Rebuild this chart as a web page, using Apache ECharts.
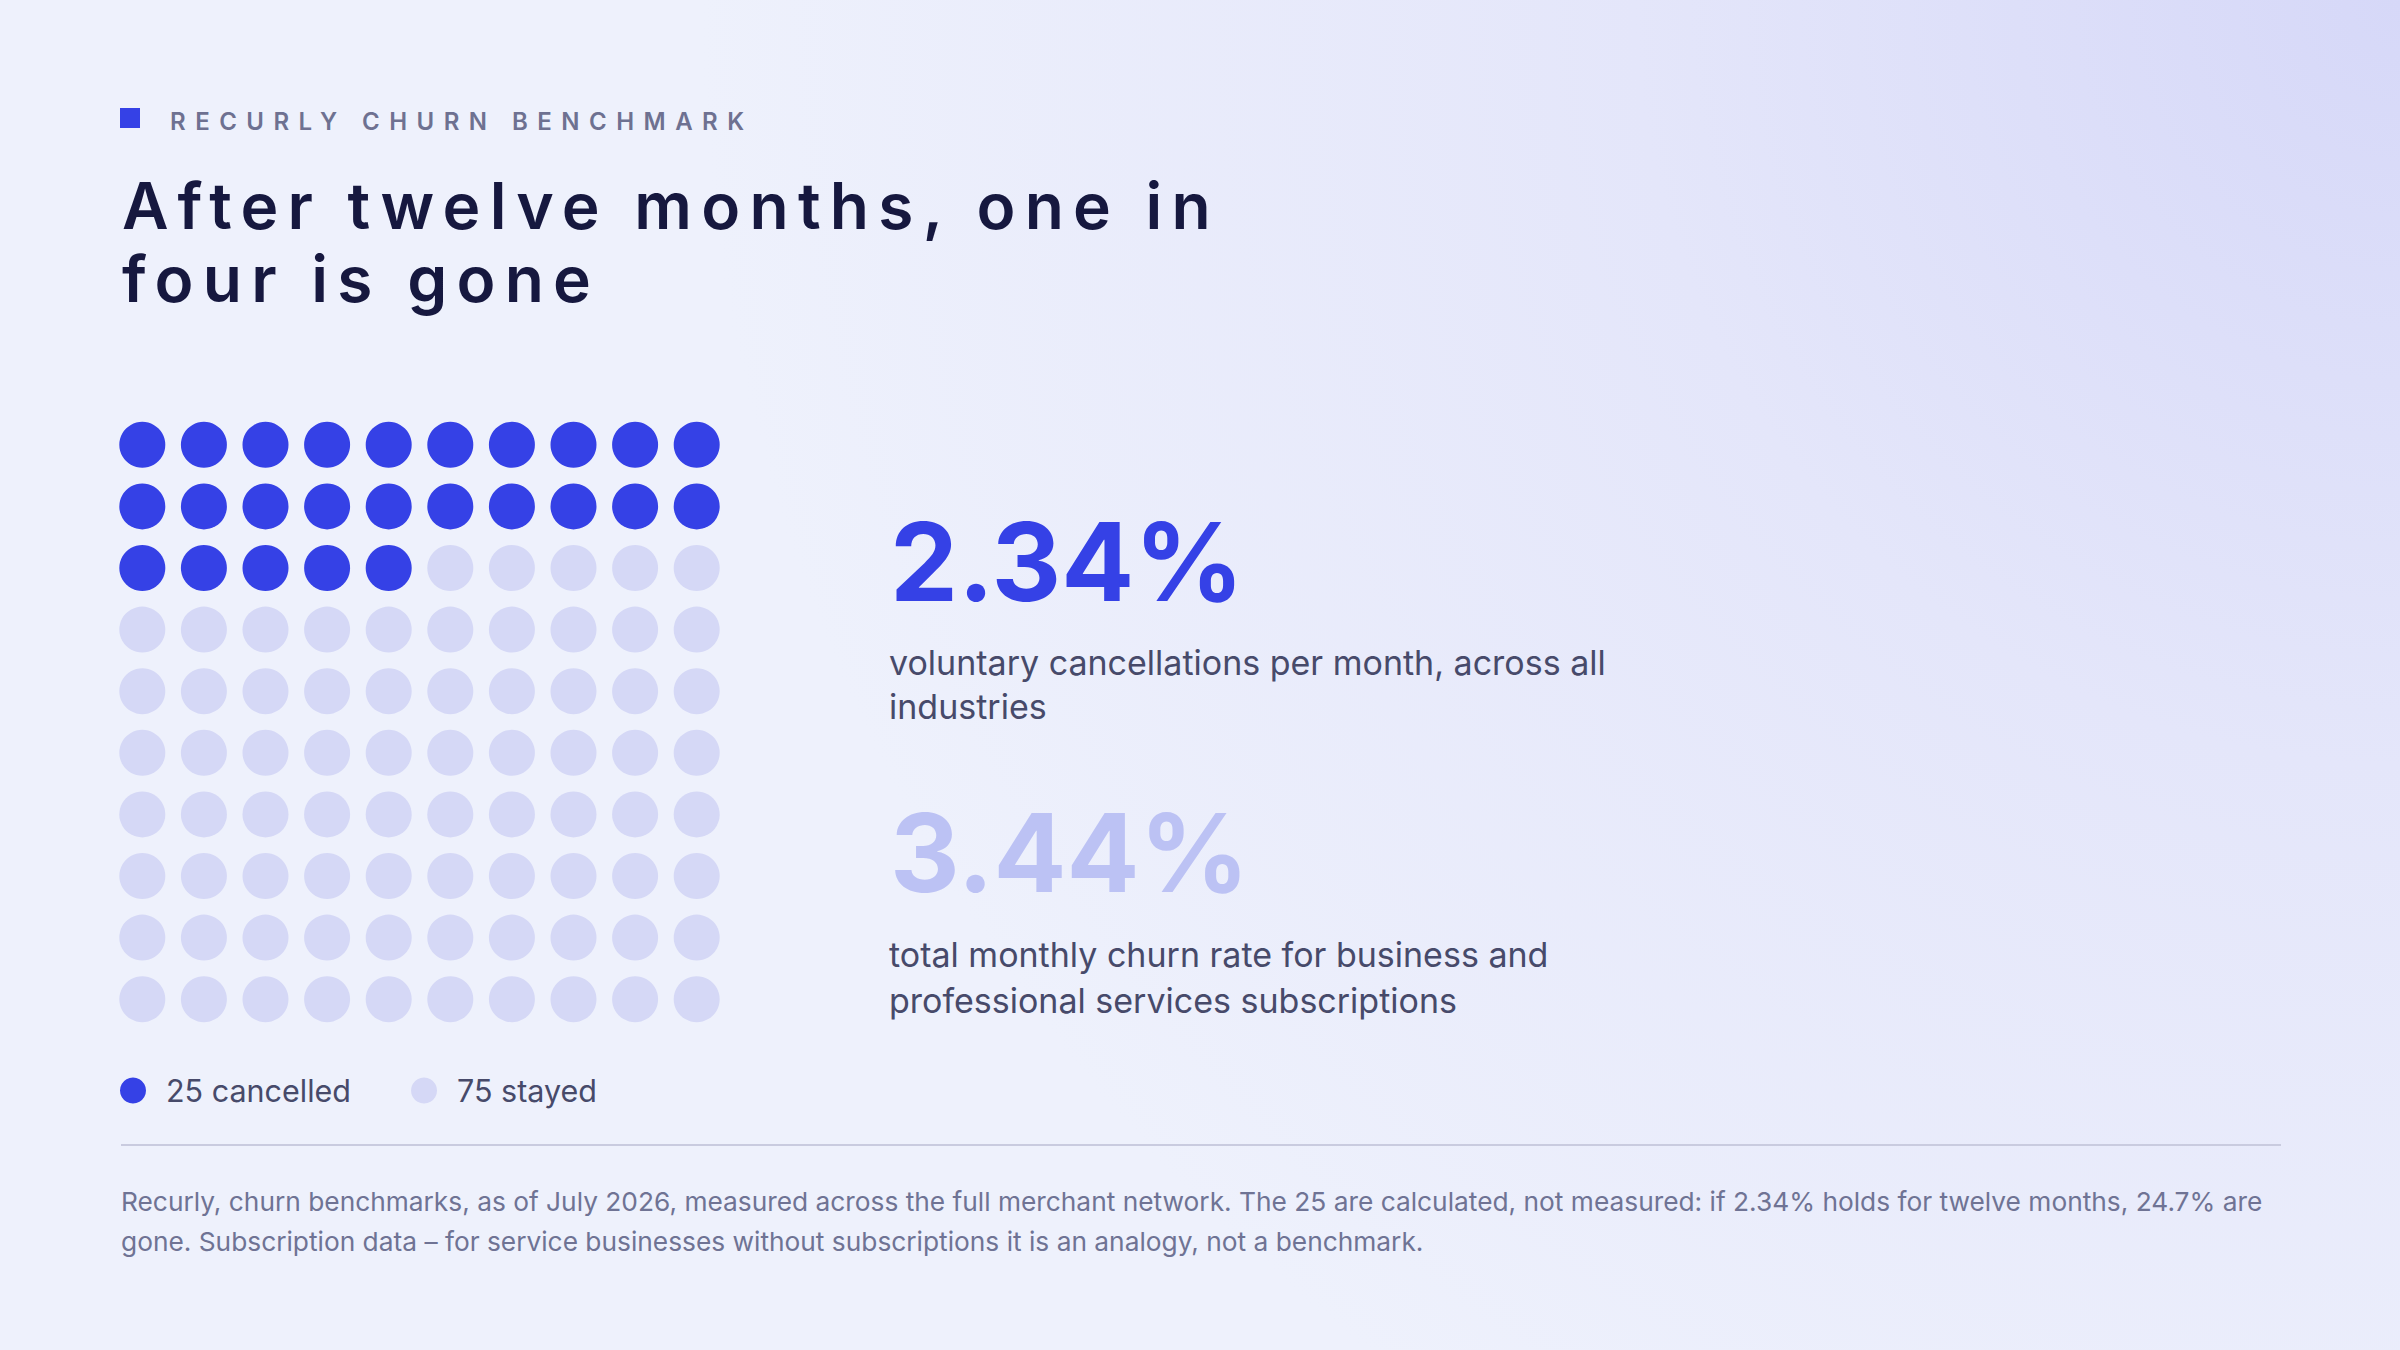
<!DOCTYPE html>
<html>
<head>
<meta charset="UTF-8">
<script src="https://cdn.jsdelivr.net/npm/echarts@6/dist/echarts.min.js"></script>
<style>
    html, body { margin: 0; padding: 0; background: #eef1fc; }
    #chart { width: 2400px; height: 1350px; }
</style>
</head>
<body>
<div id="chart"></div>
<script>
    // waffle data: 100 subscribers after twelve months
    var categories = ['cancelled', 'stayed'];
    var counts = [25, 75];
    var gridCols = 10;

    // headline stats
    var statValues = ['2.34%', '3.44%'];
    var statLabels = [
        'voluntary cancellations per month, across all\nindustries',
        'total monthly churn rate for business and\nprofessional services subscriptions'
    ];

    var eyebrow = 'RECURLY CHURN BENCHMARK';
    var titleLines = ['After twelve months, one in', 'four is gone'];
    var footnote = 'Recurly, churn benchmarks, as of July 2026, measured across the full merchant network. The 25 are calculated, not measured: if 2.34% holds for twelve months, 24.7% are\n' +
        'gone. Subscription data \u2013 for service businesses without subscriptions it is an analogy, not a benchmark.';

    var BLUE = '#3541e6';
    var LIGHT = '#d5d8f6';
    var FONT = 'Inter, "Noto Sans", sans-serif';

    // split the 100 cells into the two categories, row by row
    var cells = [[], []];
    var idx = 0;
    for (var c = 0; c < categories.length; c++) {
        for (var k = 0; k < counts[c]; k++) {
            cells[c].push([idx % gridCols, Math.floor(idx / gridCols)]);
            idx++;
        }
    }

    // letter spacing needed to stretch a line to a target width
    var mctx = document.createElement('canvas').getContext('2d');
    function spacingFor(text, font, target) {
        mctx.font = font;
        var w = mctx.measureText(text).width;
        return (target - w) / (text.length - 1);
    }

    var chart = echarts.init(document.getElementById('chart'), null, {renderer: 'svg'});

    var option = {
        animation: false,
        grid: {left: 111.5, top: 414, width: 616, height: 616},
        xAxis: {type: 'value', min: -0.5, max: gridCols - 0.5, show: false},
        yAxis: {type: 'value', min: -0.5, max: gridCols - 0.5, inverse: true, show: false},
        legend: {
            left: 120,
            top: 1075,
            padding: 0,
            icon: 'circle',
            itemWidth: 26,
            itemHeight: 26,
            itemGap: 60,
            selectedMode: false,
            textStyle: {
                fontFamily: FONT,
                fontSize: 30.5,
                color: '#474a6a',
                padding: [0, 0, 0, 15]
            },
            data: [counts[0] + ' ' + categories[0], counts[1] + ' ' + categories[1]]
        },
        series: [
            {
                name: counts[0] + ' ' + categories[0],
                type: 'scatter',
                symbol: 'circle',
                symbolSize: 46,
                silent: true,
                itemStyle: {color: BLUE, opacity: 1},
                data: cells[0]
            },
            {
                name: counts[1] + ' ' + categories[1],
                type: 'scatter',
                symbol: 'circle',
                symbolSize: 46,
                silent: true,
                itemStyle: {color: LIGHT, opacity: 1},
                data: cells[1]
            }
        ],
        graphic: [
            {
                type: 'rect', z: -10, silent: true,
                shape: {x: 0, y: 0, width: 2400, height: 1350},
                style: {
                    fill: {
                        type: 'radial', x: 2400, y: 0, r: 1700, global: true,
                        colorStops: [
                            {offset: 0, color: '#d6d8f8'},
                            {offset: 0.45, color: '#e4e6fa'},
                            {offset: 1, color: '#eef1fc'}
                        ]
                    }
                }
            },
            {
                type: 'rect', silent: true,
                shape: {x: 120, y: 108, width: 20, height: 20},
                style: {fill: BLUE}
            },
            {
                type: 'text', silent: true, x: 170, y: 121.5,
                style: {
                    text: eyebrow, fill: '#6e7191',
                    font: '600 24px ' + FONT,
                    verticalAlign: 'middle'
                }
            },
            {
                type: 'text', silent: true, x: 122, y: 168.7,
                style: {
                    text: titleLines.join('\n'), fill: '#16183f',
                    font: '600 64px ' + FONT, lineHeight: 73,
                    verticalAlign: 'top'
                }
            },
            {
                type: 'text', silent: true, x: 890, y: 561.7,
                style: {
                    text: statValues[0], fill: BLUE,
                    font: '700 108px ' + FONT,
                    verticalAlign: 'middle'
                }
            },
            {
                type: 'text', silent: true, x: 889, y: 640,
                style: {
                    text: statLabels[0], fill: '#474a6a',
                    font: '400 34px ' + FONT, lineHeight: 44,
                    verticalAlign: 'top'
                }
            },
            {
                type: 'text', silent: true, x: 890, y: 852.7,
                style: {
                    text: statValues[1], fill: '#bcc2f4',
                    font: '700 108px ' + FONT,
                    verticalAlign: 'middle'
                }
            },
            {
                type: 'text', silent: true, x: 889, y: 931,
                style: {
                    text: statLabels[1], fill: '#474a6a',
                    font: '400 34px ' + FONT, lineHeight: 46,
                    verticalAlign: 'top'
                }
            },
            {
                type: 'line', silent: true,
                shape: {x1: 121, y1: 1145, x2: 2281, y2: 1145},
                style: {stroke: '#c9cbdf', lineWidth: 2}
            },
            {
                type: 'text', silent: true, x: 121, y: 1181,
                style: {
                    text: footnote, fill: '#6f7394',
                    font: '400 26.3px ' + FONT, lineHeight: 40,
                    verticalAlign: 'top'
                }
            }
        ]
    };

    chart.setOption(option);

    // tracking on the eyebrow and the headline
    var eyebrowSpacing = spacingFor(eyebrow, '600 24px ' + FONT, 574);
    var titleSpacing = spacingFor(titleLines[0], '600 64px ' + FONT, 1090);
    function applyTracking() {
        var texts = document.querySelectorAll('#chart text');
        for (var i = 0; i < texts.length; i++) {
            var t = texts[i].textContent;
            if (t === eyebrow) {
                texts[i].setAttribute('letter-spacing', eyebrowSpacing.toFixed(2));
            } else if (titleLines.indexOf(t) >= 0) {
                texts[i].setAttribute('letter-spacing', titleSpacing.toFixed(2));
            }
        }
    }
    applyTracking();
    chart.on('finished', applyTracking);
    setTimeout(applyTracking, 50);
</script>
</body>
</html>
